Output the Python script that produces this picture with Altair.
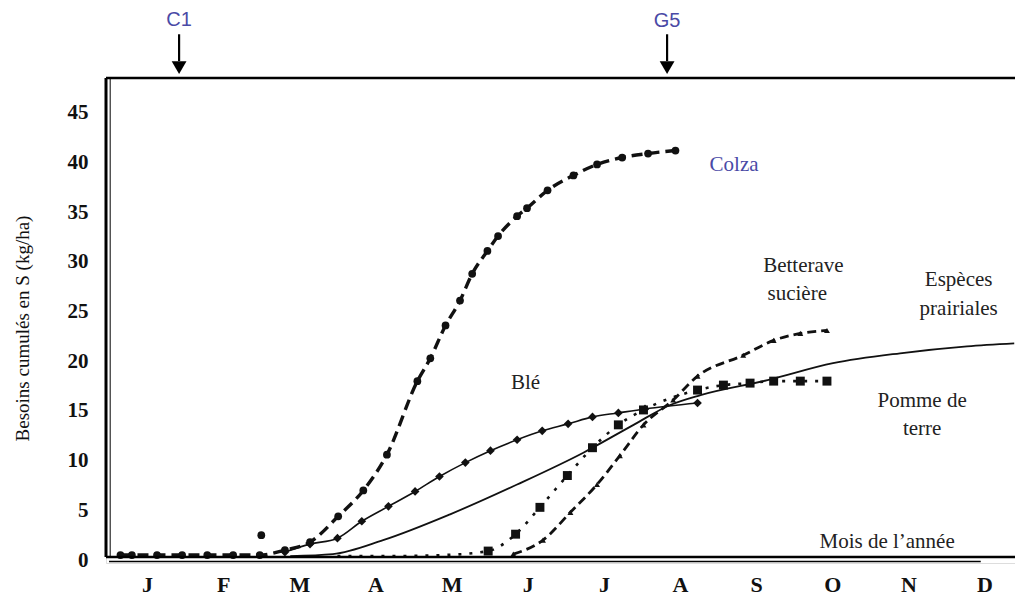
import altair as alt
import pandas as pd

# ---------------- data (x in months from 1 Jan, y in kg S/ha) ----------------
month_letters = ["J", "F", "M", "A", "M", "J", "J", "A", "S", "O", "N", "D"]
month_ticks = [0.5, 1.5, 2.5, 3.5, 4.5, 5.5, 6.5, 7.5, 8.5, 9.5, 10.5, 11.5]
y_ticks = [0, 5, 10, 15, 20, 25, 30, 35, 40, 45]

colza_m = [0.15, 0.30, 0.63, 0.96, 1.29, 1.63, 1.98, 2.31, 2.64, 3.01, 3.34, 3.65,
           4.05, 4.22, 4.42, 4.61, 4.77, 4.97, 5.11, 5.36, 5.49, 5.76, 6.10, 6.41,
           6.74, 7.08, 7.44]
colza_v = [0.5, 0.5, 0.5, 0.5, 0.5, 0.5, 0.5, 1.0, 1.8, 4.4, 7.0, 10.6,
           18.0, 20.3, 23.6, 26.1, 28.8, 31.1, 32.6, 34.6, 35.4, 37.2, 38.7, 39.8,
           40.5, 40.9, 41.2]

ble_m = [2.31, 2.64, 3.00, 3.32, 3.67, 4.02, 4.34, 4.68, 5.01, 5.36, 5.69, 6.03,
         6.35, 6.69, 7.04, 7.73]
ble_v = [0.8, 1.6, 2.2, 3.9, 5.4, 6.9, 8.4, 9.8, 11.0, 12.1, 13.0, 13.7,
         14.4, 14.8, 15.2, 15.8]

prairie_m = [2.38, 2.94, 3.60, 4.48, 5.36, 6.23, 6.89, 7.37, 7.77, 8.65, 9.51,
             10.39, 11.27, 11.89]
prairie_v = [0.4, 0.6, 2.0, 4.6, 7.6, 10.8, 13.6, 15.6, 16.6, 18.1, 19.8,
             20.8, 21.5, 21.8]

pomme_m = [3.00, 3.70, 4.40, 4.98, 5.34, 5.66, 6.02, 6.35, 6.69, 7.02, 7.73,
           8.07, 8.42, 8.73, 9.08, 9.43]
pomme_v = [0.4, 0.4, 0.5, 0.9, 2.6, 5.3, 8.5, 11.3, 13.6, 15.1, 17.1,
           17.6, 17.8, 18.0, 18.0, 18.0]

bett_m = [5.31, 5.70, 6.06, 6.41, 6.71, 7.02, 7.41, 7.73, 8.33, 8.73, 9.08, 9.43]
bett_v = [0.6, 2.0, 4.8, 7.6, 10.5, 13.6, 16.1, 18.5, 20.6, 22.1, 22.8, 23.1]

stray_m = [2.00]
stray_v = [2.5]

label_text = ["Colza", "Blé", "Betterave", "sucière", "Espèces", "prairiales",
              "Pomme de", "terre", "Mois de l’année"]
label_m = [8.21, 5.47, 9.12, 9.04, 11.16, 11.16, 10.68, 10.68, 10.22]
label_v = [39.7, 17.8, 29.6, 26.8, 28.2, 25.3, 16.0, 13.2, 1.8]
label_color = ["#4a4aa6", "#222222", "#222222", "#222222", "#222222", "#222222",
               "#222222", "#222222", "#222222"]

stage_text = ["C1", "G5"]
stage_m = [0.92, 7.33]
stage_text_v = [54.3, 54.2]
arrow_top_v = [52.9, 52.9]
arrow_bot_v = [50.2, 50.2]
arrow_head_v = [49.55, 49.55]

X_MIN, X_MAX = -0.04, 11.9
Y_MIN, Y_MAX = -0.3, 48.5

# ---------------- chart ----------------
xs = alt.Scale(domain=[X_MIN, X_MAX], nice=False, zero=False)
ys = alt.Scale(domain=[Y_MIN, Y_MAX], nice=False, zero=False)

ink = "#111111"


def series_df(m, v):
    return pd.DataFrame({"m": m, "v": v})


base_x = alt.X("m:Q", scale=xs, axis=alt.Axis(
    values=month_ticks, title=None, domain=False, ticks=False, grid=False,
    labelExpr="['J','F','M','A','M','J','J','A','S','O','N','D'][floor(datum.value)]",
    labelFont="Liberation Serif", labelFontWeight="bold", labelFontSize=22,
    labelColor="#111111", labelPadding=11))
base_y = alt.Y("v:Q", scale=ys, axis=alt.Axis(
    values=y_ticks, title="Besoins cumulés en S (kg/ha)", domain=False,
    ticks=False, grid=False, labelFont="Liberation Serif",
    labelFontWeight="bold", labelFontSize=21, labelColor="#111111",
    labelPadding=18, titleFont="Liberation Serif", titleFontWeight="normal",
    titleFontSize=19, titleColor="#111111", titleAngle=270,
    titleX=-84, titleY=250, titleAlign="center", titleBaseline="middle"))

layers = []

# Espèces prairiales: solid line
layers.append(alt.Chart(series_df(prairie_m, prairie_v)).mark_line(
    color=ink, strokeWidth=1.8, interpolate="monotone").encode(x=base_x, y=base_y))

# Blé: thin solid line with diamonds
d = series_df(ble_m, ble_v)
layers.append(alt.Chart(d).mark_line(color=ink, strokeWidth=1.6,
                                     interpolate="monotone").encode(x="m:Q", y="v:Q"))
layers.append(alt.Chart(d).mark_point(shape="diamond", filled=True, color=ink,
                                      size=75, opacity=1).encode(x="m:Q", y="v:Q"))

# Colza: dashed thick line with round markers
d = series_df(colza_m, colza_v)
layers.append(alt.Chart(d).mark_line(color=ink, strokeWidth=3.4, strokeDash=[11, 6],
                                     interpolate="monotone").encode(x="m:Q", y="v:Q"))
layers.append(alt.Chart(d).mark_point(shape="circle", filled=True, color=ink,
                                      size=60, opacity=1).encode(x="m:Q", y="v:Q"))
layers.append(alt.Chart(series_df(stray_m, stray_v)).mark_point(
    shape="circle", filled=True, color=ink, size=60, opacity=1).encode(x="m:Q", y="v:Q"))

# Pomme de terre: dotted line with squares
d = series_df(pomme_m, pomme_v)
layers.append(alt.Chart(d).mark_line(color=ink, strokeWidth=2.6, strokeDash=[3, 8],
                                     interpolate="monotone").encode(x="m:Q", y="v:Q"))
layers.append(alt.Chart(d[d["v"] > 0.6]).mark_point(shape="square", filled=True, color=ink,
                                                    size=80, opacity=1).encode(x="m:Q", y="v:Q"))

# Betterave sucière: dashed line with small markers
d = series_df(bett_m, bett_v)
layers.append(alt.Chart(d).mark_line(color=ink, strokeWidth=2.8, strokeDash=[9, 5],
                                     interpolate="monotone").encode(x="m:Q", y="v:Q"))
layers.append(alt.Chart(d).mark_point(shape="triangle-up", filled=True, color=ink,
                                      size=35, opacity=1).encode(x="m:Q", y="v:Q"))

# frame lines
frame = pd.DataFrame({
    "x1": [X_MIN, X_MIN, X_MIN, 0.0],
    "x2": [12.1, X_MIN, 12.1, 11.45],
    "y1": [Y_MAX, 0.3, 0.3, -0.15],
    "y2": [Y_MAX, Y_MAX, 0.3, -0.15],
    "w": [2.6, 3.0, 2.6, 1.3],
})
for i in range(len(frame)):
    layers.append(alt.Chart(frame.iloc[[i]]).mark_rule(
        color="#000000", strokeWidth=float(frame["w"].iloc[i])).encode(
        x="x1:Q", x2="x2:Q", y="y1:Q", y2="y2:Q"))
# thin inner left line
layers.append(alt.Chart(pd.DataFrame({"x": [0.015], "y1": [0.3], "y2": [Y_MAX]})).mark_rule(
    color="#000000", strokeWidth=1.0).encode(x="x:Q", y="y1:Q", y2="y2:Q"))

# series labels
lab = pd.DataFrame({"t": label_text, "m": label_m, "v": label_v, "c": label_color})
layers.append(alt.Chart(lab).mark_text(font="Liberation Serif", fontSize=21,
                                       align="center", baseline="middle").encode(
    x="m:Q", y="v:Q", text="t:N", color=alt.Color("c:N", scale=None)))

# growth stage arrows
st = pd.DataFrame({"t": stage_text, "m": stage_m, "tv": stage_text_v,
                   "a1": arrow_top_v, "a2": arrow_bot_v, "h": arrow_head_v})
layers.append(alt.Chart(st).mark_text(font="Liberation Sans", fontSize=20,
                                      color="#4a4aa6", align="center",
                                      baseline="middle").encode(x="m:Q", y="tv:Q", text="t:N"))
layers.append(alt.Chart(st).mark_rule(color="#000000", strokeWidth=2.2).encode(
    x="m:Q", y="a1:Q", y2="a2:Q"))
layers.append(alt.Chart(st).mark_point(shape="triangle-down", filled=True,
                                       color="#000000", size=220, opacity=1).encode(
    x="m:Q", y="h:Q"))

chart = alt.layer(*layers).properties(
    width=909, height=485,
    autosize=alt.AutoSizeParams(type="none"),
    padding={"left": 98, "top": 70, "right": 0, "bottom": 38},
).configure_view(stroke=None).configure(background="#ffffff")

chart.save("out.html", embed_options={"renderer": "svg", "actions": False})
